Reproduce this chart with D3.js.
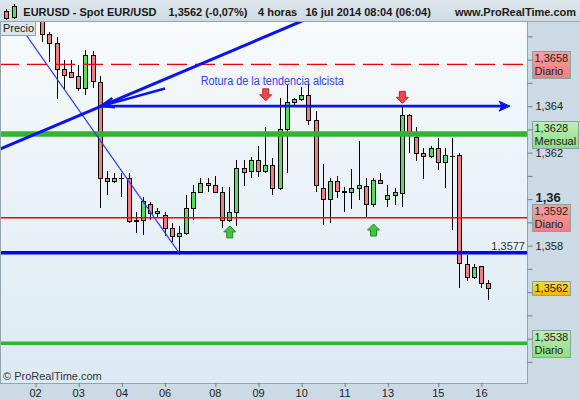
<!DOCTYPE html>
<html><head><meta charset="utf-8">
<script src="https://cdn.jsdelivr.net/npm/d3@7"></script>
<style>
body{margin:0;background:#fff;}
svg{display:block;font-family:"Liberation Sans",Arial,sans-serif;}
</style>
</head><body>
<svg id="c" width="580" height="400"></svg>
<script>
// ---------- DATA ----------
const times = [
 "02 00h","02 04h","02 08h","02 12h","02 16h","02 20h",
 "03 00h","03 04h","03 08h","03 12h","03 16h","03 20h",
 "04 00h","04 04h","04 08h","04 12h","04 16h","04 20h",
 "06 20h",
 "07 00h","07 04h","07 08h","07 12h","07 16h","07 20h",
 "08 00h","08 04h","08 08h","08 12h","08 16h","08 20h",
 "09 00h","09 04h","09 08h","09 12h","09 16h","09 20h",
 "10 00h","10 04h","10 08h","10 12h","10 16h","10 20h",
 "11 00h","11 04h","11 08h","11 12h","11 16h","11 20h",
 "13 20h",
 "14 00h","14 04h","14 08h","14 12h","14 16h","14 20h",
 "15 00h","15 04h","15 08h","15 12h","15 16h","15 20h",
 "16 00h","16 04h"
];
const open  = [1.3700,1.3690,1.3671,1.36670,1.36559,1.36548,1.36529,1.36476,1.36618,1.36505,
 1.36089,1.36079,1.36092,1.36089,1.35910,1.35909,1.35979,1.35939,1.35931,1.35878,
 1.35841,1.35855,1.35960,1.36029,1.36068,1.36059,1.36029,1.35910,1.35945,1.36136,
 1.36120,1.36168,1.36120,1.36149,1.36050,1.36300,1.36420,1.36429,1.36446,1.36339,
 1.36050,1.35999,1.36079,1.36036,1.36029,1.36050,1.36058,1.35977,1.36082,1.35999,
 1.36020,1.36027,1.36361,1.36268,1.36197,1.36186,1.36218,1.36158,1.36186,1.36188,
 1.35721,1.35666,1.35712,1.35638];
const high  = [1.3705,1.3695,1.36720,1.36698,1.36598,1.36598,1.36576,1.36641,1.36638,1.36529,
 1.36120,1.36112,1.36112,1.36111,1.35945,1.36010,1.35988,1.35960,1.35945,1.35896,
 1.35884,1.36017,1.36060,1.36089,1.36093,1.36099,1.36053,1.36053,1.36168,1.36168,
 1.36181,1.36228,1.36311,1.36179,1.36433,1.36490,1.36437,1.36483,1.36495,1.36377,
 1.36150,1.36091,1.36098,1.36053,1.36128,1.36249,1.36089,1.36089,1.36111,1.36060,
 1.36050,1.36400,1.36365,1.36311,1.36218,1.36228,1.36265,1.36218,1.36265,1.36199,
 1.35759,1.35720,1.35712,1.35652];
const low   = [1.3688,1.36677,1.36591,1.36429,1.36469,1.36519,1.36465,1.36447,1.36477,1.35960,
 1.36017,1.36068,1.36010,1.35898,1.35855,1.35845,1.35910,1.35924,1.35841,1.35816,
 1.35759,1.35845,1.35910,1.36025,1.36029,1.36027,1.35878,1.35902,1.35885,1.36056,
 1.36089,1.36096,1.36111,1.36020,1.36039,1.36111,1.36404,1.36423,1.36318,1.36030,
 1.35888,1.35898,1.36005,1.35945,1.35958,1.35996,1.35922,1.35967,1.36067,1.35967,
 1.35974,1.35967,1.36197,1.36164,1.36086,1.36179,1.36125,1.36049,1.35867,1.35616,
 1.35648,1.35656,1.35620,1.35566];
const close = [1.3690,1.3671,1.36670,1.36558,1.36536,1.36526,1.36476,1.36618,1.36508,1.36089,
 1.36079,1.36089,1.36090,1.35908,1.35907,1.35991,1.35939,1.35948,1.35878,1.35841,
 1.35856,1.35960,1.36029,1.36068,1.36059,1.36029,1.35910,1.35945,1.36136,1.36117,
 1.36168,1.36120,1.36149,1.36050,1.36300,1.36418,1.36429,1.36446,1.36339,1.36059,
 1.35999,1.36078,1.36037,1.36029,1.36050,1.36060,1.35977,1.36082,1.36068,1.36020,
 1.36029,1.36361,1.36289,1.36197,1.36186,1.36218,1.36158,1.36188,1.36186,1.35726,
 1.35666,1.35709,1.35638,1.35619];

const tickDays = ["02","03","04","06","08","09","10","11","13","15","16"];
const priceTicks = [1.353,1.354,1.355,1.356,1.357,1.358,1.359,1.360,1.361,1.362,1.363,1.364,1.365,1.366,1.367];
const priceLabels = [1.358,1.360,1.362,1.364];
const levelValues = [1.3658, 1.3628, 1.3592, 1.3562, 1.3538];
const levelNames  = ["Diario","Mensual","Diario","","Diario"];
const levelKinds  = ["red","green","red","last","green"];
const blueLevel = 1.3577;
const breakLevel = 1.364;
const trendUpIdx = [-4.9, 37.1],  trendUpVal = [1.36215, 1.36766];
const trendDnIdx = [-2.4, 20],    trendDnVal = [1.36757, 1.3577];
const breakArrowIdx = [9, 66.05];
const pointerIdx = [18.07, 9.17], pointerVal = [1.36476, 1.364];
const sellIdx = [32, 51], sellVal = [1.36423, 1.36412];
const buyIdx = [27, 47],  buyVal = [1.35885, 1.35893];
const noteText = "Rotura de la tendencia alcista";
const noteIdx = 23.03, noteVal = 1.36492;

// ---------- SETUP ----------
const W = 580, H = 400;
const P = {l:1, r:527, t:22, b:383};
const svg = d3.select("#c");
const loc = d3.formatLocale({decimal:",", thousands:".", grouping:[3], currency:["","€"]});
const fmt4 = loc.format(".4f"), fmtAx = loc.format(".3~f");

const x = d3.scaleLinear().domain([0, times.length - 1]).range([35.1, 488.1]);
const y = d3.scaleLinear().domain([1.358, 1.364]).range([245.65, 106.15]);

const defs = svg.append("defs");
function grad(id, c1, c2){
  const g = defs.append("linearGradient").attr("id", id).attr("x1",0).attr("y1",0).attr("x2",0).attr("y2",1);
  g.append("stop").attr("offset","0%").attr("stop-color",c1);
  g.append("stop").attr("offset","100%").attr("stop-color",c2);
}
grad("bg", "#f8fafc", "#dbeaf3");
grad("hdr", "#dfe7ed", "#cdd9e2");
grad("gRed", "#f7a0a0", "#ef7f7f");
grad("gGreen", "#c0efb8", "#8fdc88");
grad("gLast", "#ffd84a", "#f7b900");
defs.append("clipPath").attr("id","clip").append("rect")
  .attr("x",P.l).attr("y",P.t).attr("width",P.r-P.l).attr("height",P.b-P.t);

// panels
svg.append("rect").attr("width",W).attr("height",H).attr("fill","#cbdae4");
svg.append("rect").attr("x",0).attr("y",0).attr("width",W).attr("height",P.t).attr("fill","url(#hdr)");
svg.append("line").attr("x1",0).attr("x2",W).attr("y1",P.t-0.5).attr("y2",P.t-0.5).attr("stroke","#9aabb8");
svg.append("rect").attr("x",P.l).attr("y",P.t).attr("width",P.r-P.l).attr("height",P.b-P.t).attr("fill","url(#bg)");

// ---------- CANDLES ----------
const cg = svg.append("g").attr("clip-path","url(#clip)");
const idx = d3.range(times.length);
const cx = i => Math.round(x(i));
cg.selectAll("line.wick").data(idx).join("line").attr("class","wick")
  .attr("x1", i => cx(i)+0.5).attr("x2", i => cx(i)+0.5)
  .attr("y1", i => Math.round(y(high[i]))).attr("y2", i => Math.round(y(low[i])))
  .attr("stroke","#000").attr("stroke-width",1);
cg.selectAll("rect.body").data(idx).join("rect").attr("class","body")
  .attr("x", i => cx(i)-1.5).attr("width", 4)
  .attr("y", i => Math.round(y(Math.max(open[i],close[i])))+0.5)
  .attr("height", i => Math.max(Math.round(y(Math.min(open[i],close[i]))) - Math.round(y(Math.max(open[i],close[i]))), 0.01))
  .attr("fill", i => close[i] > open[i] ? "#5cdc5c" : (close[i] < open[i] ? "#f07f7f" : "#000"))
  .attr("stroke","#000").attr("stroke-width",1);

// ---------- LEVEL LINES ----------
const lg = svg.append("g").attr("clip-path","url(#clip)");
lg.append("line").attr("x1",P.l).attr("x2",P.r).attr("y1",y(levelValues[0])).attr("y2",y(levelValues[0]))
  .attr("stroke","#e80000").attr("stroke-width",1.3).attr("stroke-dasharray","20,8").attr("stroke-dashoffset",2);
lg.append("line").attr("x1",P.l).attr("x2",P.r).attr("y1",y(levelValues[1])).attr("y2",y(levelValues[1]))
  .attr("stroke","#33b233").attr("stroke-width",5.5);
lg.append("line").attr("x1",P.l).attr("x2",P.r).attr("y1",y(levelValues[2])).attr("y2",y(levelValues[2]))
  .attr("stroke","#ff0000").attr("stroke-width",1.3);
lg.append("line").attr("x1",P.l).attr("x2",P.r).attr("y1",y(levelValues[4])).attr("y2",y(levelValues[4]))
  .attr("stroke","#33b233").attr("stroke-width",3.5);
lg.append("line").attr("x1",P.l).attr("x2",P.r).attr("y1",y(blueLevel)).attr("y2",y(blueLevel))
  .attr("stroke","#0000f0").attr("stroke-width",3.5);

// trend lines
lg.append("line").attr("x1",x(trendDnIdx[0])).attr("y1",y(trendDnVal[0]))
  .attr("x2",x(trendDnIdx[1])).attr("y2",y(trendDnVal[1]))
  .attr("stroke","#3040f0").attr("stroke-width",1.2);
lg.append("line").attr("x1",x(trendUpIdx[0])).attr("y1",y(trendUpVal[0]))
  .attr("x2",x(trendUpIdx[1])).attr("y2",y(trendUpVal[1]))
  .attr("stroke","#0a14f0").attr("stroke-width",3);

// break arrow (horizontal)
const bx1 = x(breakArrowIdx[0]), bx2 = x(breakArrowIdx[1]), by = y(breakLevel);
lg.append("line").attr("x1",bx1).attr("x2",bx2-7).attr("y1",by).attr("y2",by)
  .attr("stroke","#0a14f0").attr("stroke-width",2.6);
lg.append("path").attr("d",`M${bx2},${by} L${bx2-11},${by-5} L${bx2-8},${by} L${bx2-11},${by+5} Z`)
  .attr("fill","#0a14f0").attr("stroke","#0a14f0").attr("stroke-width",1);

// pointer arrow to the break
const px1 = x(pointerIdx[0]), py1 = y(pointerVal[0]), px2 = x(pointerIdx[1]), py2 = y(pointerVal[1]);
const ang = Math.atan2(py1-py2, px1-px2);
const bl = 14, spread = 0.36;
lg.append("line").attr("x1",px1).attr("y1",py1).attr("x2",px2).attr("y2",py2)
  .attr("stroke","#0a14f0").attr("stroke-width",2.4);
lg.append("path").attr("d",
  `M${px2+bl*Math.cos(ang-spread)},${py2+bl*Math.sin(ang-spread)} L${px2},${py2} L${px2+bl*Math.cos(ang+spread)},${py2+bl*Math.sin(ang+spread)}`)
  .attr("fill","none").attr("stroke","#0a14f0").attr("stroke-width",2.4);

// note text
lg.append("text").attr("x",x(noteIdx)).attr("y",y(noteVal)).text(noteText)
  .attr("font-size",12).attr("fill","#2f3ef0").attr("textLength",143).attr("lengthAdjust","spacingAndGlyphs");

// block arrows
function downArrow(cxp, tip){
  return `M${cxp-3},${tip-12} L${cxp+3},${tip-12} L${cxp+3},${tip-6} L${cxp+6},${tip-6} L${cxp},${tip} L${cxp-6},${tip-6} L${cxp-3},${tip-6} Z`;
}
function upArrow(cxp, tip){
  return `M${cxp-3},${tip+12} L${cxp+3},${tip+12} L${cxp+3},${tip+6} L${cxp+6},${tip+6} L${cxp},${tip} L${cxp-6},${tip+6} L${cxp-3},${tip+6} Z`;
}
sellIdx.forEach((si,k) => lg.append("path").attr("d", downArrow(x(si)+0.5, y(sellVal[k])))
  .attr("fill","#ec4a4a").attr("stroke","#b82525").attr("stroke-width",1));
buyIdx.forEach((bi,k) => lg.append("path").attr("d", upArrow(x(bi)+0.5, y(buyVal[k])))
  .attr("fill","#42c442").attr("stroke","#1f8a1f").attr("stroke-width",1));

// blue level label
svg.append("text").attr("x",P.r-2).attr("y",y(blueLevel)-3).attr("text-anchor","end")
  .attr("font-size",11).attr("fill","#333").text(fmt4(blueLevel));

// plot border
svg.append("rect").attr("x",P.l-0.5).attr("y",P.t-0.5).attr("width",P.r-P.l+1).attr("height",P.b-P.t+1)
  .attr("fill","none").attr("stroke","#93a4b1");

// ---------- AXES ----------
const isLabel = v => priceLabels.some(p => Math.abs(p - v) < 1e-9);
const ay = svg.append("g").attr("transform",`translate(${P.r+0.5},0)`)
  .call(d3.axisRight(y).tickValues(priceTicks).tickSize(5).tickPadding(3)
    .tickFormat(v => isLabel(v) ? fmtAx(v) : ""));
ay.select(".domain").remove();
ay.selectAll("line").attr("stroke","#6f808c");
ay.selectAll("text").attr("font-size",11).attr("fill","#222").attr("font-family",null);
ay.selectAll(".tick").filter(v => Math.abs(v-1.36) < 1e-9).select("text")
  .attr("font-weight","bold").attr("font-size",13).attr("dy","0.2em");

const tickIdx = tickDays.map(d => times.findIndex(t => t.startsWith(d + " ")));
const ax = svg.append("g").attr("transform",`translate(0,${P.b})`)
  .call(d3.axisBottom(x).tickValues(tickIdx).tickSize(4).tickPadding(2).tickFormat((d,k) => tickDays[k]));
ax.select(".domain").remove();
ax.selectAll("line").attr("stroke","#6f808c").attr("transform","translate(0.5,0)");
ax.selectAll("text").attr("font-size",11).attr("fill","#222").attr("font-family",null);

// level label boxes
levelValues.forEach((v,k) => {
  const g = svg.append("g");
  const lines = levelNames[k] ? [fmt4(v), levelNames[k]] : [fmt4(v)];
  const h = lines.length === 2 ? 27 : 14;
  const top = Math.round(y(v) - h/2);
  const rect = g.append("rect").attr("x",532.5).attr("y",top+0.5).attr("height",h)
    .attr("fill", levelKinds[k]==="red" ? "url(#gRed)" : levelKinds[k]==="green" ? "url(#gGreen)" : "url(#gLast)")
    .attr("stroke","#8d9da9");
  let wmax = 0;
  lines.forEach((s,j) => {
    const t = g.append("text").attr("x",534.5).attr("y",top + 11 + j*13).attr("font-size",11)
      .attr("fill","#222").text(s);
    wmax = Math.max(wmax, t.node().getComputedTextLength());
  });
  rect.attr("width", Math.round(wmax) + 4);
});

// ---------- HEADER ----------
const hg = svg.append("g");
hg.append("line").attr("x1",6.5).attr("x2",6.5).attr("y1",9).attr("y2",20).attr("stroke","#000");
hg.append("rect").attr("x",4.5).attr("y",11.5).attr("width",4).attr("height",7).attr("fill","#f07f7f").attr("stroke","#000");
hg.append("line").attr("x1",14.5).attr("x2",14.5).attr("y1",4).attr("y2",19).attr("stroke","#000");
hg.append("rect").attr("x",12.5).attr("y",6.5).attr("width",4).attr("height",11).attr("fill","#5cdc5c").attr("stroke","#000");
const headerText = [["EURUSD - Spot EUR/USD",23.3],[fmt4(close[close.length-1]) + " (-0,07%)",168.5],
  ["4 horas",258],["16 jul 2014 08:04 (06:04)",305.5],["www.ProRealTime.com",455]];
headerText.forEach(([s,xx]) => hg.append("text").attr("x",xx).attr("y",16).attr("font-size",11)
  .attr("font-weight","bold").attr("fill","#1a1a1a").text(s));

// Precio box
svg.append("rect").attr("x",0.5).attr("y",P.t-0.5).attr("width",35).attr("height",14)
  .attr("fill","#dde5eb").attr("stroke","#93a4b1");
svg.append("text").attr("x",3).attr("y",P.t+10).attr("font-size",11).attr("fill","#222").text("Precio");

// copyright
svg.append("text").attr("x",3).attr("y",380).attr("font-size",11).attr("fill","#333").text("© ProRealTime.com");
</script>
</body></html>
